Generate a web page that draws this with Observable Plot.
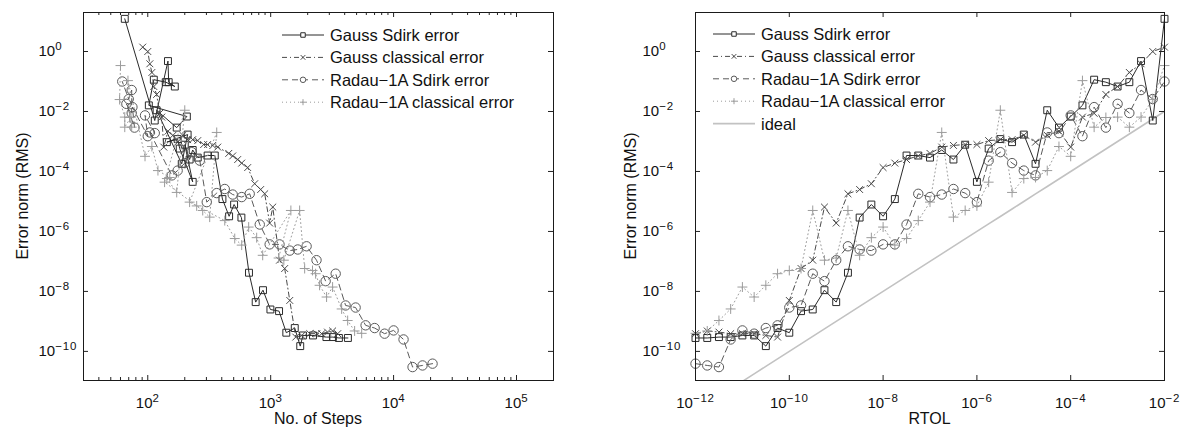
<!DOCTYPE html>
<html><head><meta charset="utf-8">
<script src="https://cdn.jsdelivr.net/npm/d3@7"></script>
<script src="https://cdn.jsdelivr.net/npm/@observablehq/plot@0.6"></script>
<style>
html,body{margin:0;padding:0;background:#fff;}
#wrap{position:relative;width:1183px;height:431px;overflow:hidden;}
#wrap > svg{position:absolute;top:0;}
</style></head><body><div id="wrap"></div>
<script>
// ---------- data ----------
const rtol = [1e-12,1.78e-12,3.16e-12,5.62e-12,1e-11,1.78e-11,3.16e-11,5.62e-11,1e-10,1.78e-10,3.16e-10,5.62e-10,
  1e-9,1.78e-9,3.16e-9,5.62e-9,1e-8,1.78e-8,3.16e-8,5.62e-8,1e-7,1.78e-7,3.16e-7,5.62e-7,1e-6,1.78e-6,3.16e-6,5.62e-6,
  1e-5,1.78e-5,3.16e-5,5.62e-5,1e-4,1.78e-4,3.16e-4,5.62e-4,1e-3,1.78e-3,3.16e-3,5.62e-3,1e-2];

const gaussSdirkErr = [2.8e-10,2.8e-10,3.0e-10,3.0e-10,3.4e-10,3.4e-10,1.5e-10,6.0e-10,4.2e-10,2.2e-9,2.5e-9,1.1e-8,4.4e-9,4.2e-8,
  2.9e-6,7.9e-6,3.2e-6,1.2e-5,3.4e-4,3.4e-4,2.9e-4,5.2e-4,2.5e-4,7.8e-4,4.5e-5,5.8e-4,1.2e-3,9.5e-4,1.7e-3,1.8e-4,
  1.1e-2,2.9e-3,6.8e-3,1.6e-2,0.115,0.095,0.068,0.095,0.48,5.0e-3,12.3];
const gaussClassicalErr = [3.9e-10,4.8e-10,4.4e-10,3.9e-10,3.9e-10,3.9e-10,3.4e-10,3.0e-10,5.0e-9,5.8e-8,1.1e-7,6.5e-6,1.9e-6,1.8e-5,
  2.5e-5,3.9e-5,1.35e-4,1.9e-4,2.5e-4,3.3e-4,4.0e-4,6.5e-4,7.4e-4,7.9e-4,7.9e-4,1.07e-3,1.15e-3,1.15e-3,1.6e-3,9.5e-4,
  1.6e-3,2.2e-3,6.5e-4,6.5e-3,8.7e-3,0.037,0.068,0.20,0.39,1.0,1.4];
const radauSdirkErr = [3.9e-11,3.4e-11,3.0e-11,2.5e-10,5.0e-10,3.9e-10,6.0e-10,7.4e-10,2.9e-9,3.4e-9,3.9e-8,2.2e-8,1.1e-7,3.2e-7,
  2.5e-7,2.3e-7,3.7e-7,3.7e-7,1.7e-6,1.8e-5,1.4e-5,1.7e-5,2.6e-5,1.9e-5,9.5e-6,2.3e-4,4.4e-4,1.9e-4,1.07e-4,7.4e-5,
  2.0e-3,1.9e-3,7.4e-3,1.5e-3,0.014,2.9e-3,0.018,8.9e-3,0.052,0.026,0.10];
const radauClassicalErr = [4.0e-10,4.8e-10,1.07e-9,2.6e-9,1.4e-8,6.5e-9,1.6e-8,3.9e-8,5.0e-8,5.8e-8,5.0e-6,1.1e-7,1.3e-7,5.0e-6,
  1.6e-7,6.2e-7,1.4e-6,3.5e-7,5.8e-7,2.3e-6,9.5e-6,2.0e-3,3.0e-6,5.0e-6,7.1e-6,4.4e-5,0.011,2.0e-5,5.8e-5,6.3e-5,
  1.07e-4,6.8e-4,3.2e-4,0.107,3.0e-3,6.3e-3,6.5e-3,3.0e-3,6.5e-3,0.025,0.34];

const gaussSdirkSteps = [4250,3590,3210,2840,2210,1830,1740,1570,1340,1170,995,866,755,666,578,504,459,405,351,307,
  255,232,219,200,232,182,175,143,211,189,118,172,208,102,112,140,166,148,146,114,65];
const gaussClassicalSteps = [3510,3190,2900,2600,2370,2080,1790,1600,1430,1300,1180,1040,981,894,829,741,650,581,539,491,
  456,371,338,307,285,255,232,211,193,175,160,146,135,130,125,118,112,108,104,100,91];
const radauSdirkSteps = [20750,17200,14270,12050,10000,8450,7010,5920,4910,4070,3380,2800,2360,1960,1660,1430,1180,981,815,675,
  581,491,423,364,302,265,228,200,175,157,104,114,95,100,75,78,67,74,74,70,62];
const radauClassicalSteps = [5500,4820,4230,3780,3190,2850,2500,2320,2190,1890,1720,1280,1160,1460,861,769,662,581,510,423,
  219,364,319,280,250,137,200,172,143,151,121,108,95,69,74,71,73,65,65,59,60];

const seriesNames = ["Gauss Sdirk error","Gauss classical error","Radau\u22121A Sdirk error","Radau\u22121A classical error"];
const idealName = "ideal";

const yTicks = [1,1e-2,1e-4,1e-6,1e-8,1e-10];
const stepsTicks = [1e2,1e3,1e4,1e5];
const rtolTicks = [1e-12,1e-10,1e-8,1e-6,1e-4,1e-2];

// ---------- styling ----------
const FONT = '"Liberation Sans", Arial, Helvetica, sans-serif';
const H = 431, MT = 12, MB = 51, IH = H - MT - MB;
const yDomain = [1.07e-11, 20];
const styles = [
  {stroke:"#2a2a2a", dash:null,      symbol:"square", r:3.9, lsym:d3.symbolSquare, lsize:20},
  {stroke:"#4a4a4a", dash:"5,3,1,3", symbol:"times",  r:3.2, lsym:d3.symbolTimes,  lsize:16},
  {stroke:"#5a5a5a", dash:"6,4",     symbol:"circle", r:4.7, lsym:d3.symbolCircle, lsize:24},
  {stroke:"#9c9c9c", dash:"1,3",     symbol:"plus",   r:3.3, lsym:d3.symbolPlus,   lsize:14}
];
const idealColor = "#c2c2c2";

function tbl(xs, ys){ return xs.map((x,i)=>({x, y: ys[i]})); }
const errs = [gaussSdirkErr, gaussClassicalErr, radauSdirkErr, radauClassicalErr];
const stepsAll = [gaussSdirkSteps, gaussClassicalSteps, radauSdirkSteps, radauClassicalSteps];

function fmt(d){ return "10^" + Math.round(Math.log10(d)); }

function panel(cfg){
  const iw = cfg.width - cfg.marginLeft - cfg.marginRight;
  const marks = [];
  if (cfg.ideal) marks.push(Plot.line(cfg.ideal, {x:"x", y:"y", stroke:idealColor, strokeWidth:1.6, clip:true}));
  cfg.series.forEach((data,k)=>{
    const s = styles[k];
    marks.push(Plot.line(data, {x:"x", y:"y", stroke:s.stroke, strokeWidth:1, strokeDasharray:s.dash}));
    marks.push(Plot.dot(data, {x:"x", y:"y", symbol:s.symbol, r:s.r, stroke:s.stroke, fill:"none", strokeWidth:1}));
  });
  const tc = "#222";
  marks.push(
    Plot.ruleX(cfg.xMajor, {x:d=>d, insetTop: IH-5, stroke:tc}),
    Plot.ruleX(cfg.xMajor, {x:d=>d, insetBottom: IH-5, stroke:tc}),
    Plot.ruleY(yTicks, {y:d=>d, insetRight: iw-5, stroke:tc}),
    Plot.ruleY(yTicks, {y:d=>d, insetLeft: iw-5, stroke:tc})
  );
  if (cfg.xMinor) marks.push(
    Plot.ruleX(cfg.xMinor, {x:d=>d, insetTop: IH-3, stroke:tc}),
    Plot.ruleX(cfg.xMinor, {x:d=>d, insetBottom: IH-3, stroke:tc})
  );
  marks.push(
    Plot.frame({stroke:"#1a1a1a", strokeWidth:1}),
    Plot.axisX(cfg.xMajor, {tickSize:0, tickPadding:17, tickFormat:fmt, label:null, fill:"#111"}),
    Plot.axisY(yTicks, {tickSize:0, tickPadding:cfg.yPad, textAnchor:"start", tickFormat:fmt, label:null, fill:"#111"})
  );
  const svg = Plot.plot({
    width: cfg.width, height: H,
    marginTop: MT, marginBottom: MB, marginLeft: cfg.marginLeft, marginRight: cfg.marginRight,
    x: {type:"log", domain: cfg.xDomain},
    y: {type:"log", domain: yDomain},
    style: {fontFamily: FONT, fontSize:"15px", background:"transparent", color:"#111", overflow:"visible"},
    marks
  });
  const S = d3.select(svg);
  S.selectAll("text").each(function(){
    const m = /^10\^(-?\d+)$/.exec(this.textContent);
    if (m){
      this.textContent = "10";
      d3.select(this).append("tspan").attr("dy","-0.52em").attr("font-size","11.5px")
        .attr("letter-spacing","0.8px").text(m[1].replace("-","\u2212"));
    }
  });
  S.append("text").attr("x", cfg.marginLeft + iw/2).attr("y", 424).attr("text-anchor","middle")
    .attr("font-size","16px").attr("fill","#111").text(cfg.xLabel);
  S.append("text").attr("transform", `translate(${cfg.yLabelX},${MT+IH/2}) rotate(-90)`)
    .attr("text-anchor","middle").attr("dy","0.35em").attr("font-size","16px").attr("fill","#111").text("Error norm (RMS)");
  const g = S.append("g").attr("text-anchor","start");
  cfg.legend.forEach((it,i)=>{
    const y = cfg.legY + i*22.4;
    g.append("line").attr("x1",cfg.legX).attr("x2",cfg.legX+42).attr("y1",y).attr("y2",y)
      .attr("stroke", it.stroke).attr("stroke-width", it.sw||1).attr("stroke-dasharray", it.dash||null);
    if (it.lsym) g.append("path").attr("d", d3.symbol(it.lsym, it.lsize)()).attr("transform",`translate(${cfg.legX+21},${y})`)
      .attr("fill","#fff").attr("stroke", it.stroke);
    g.append("text").attr("x", cfg.legX+48).attr("y", y).attr("dy","0.36em").attr("font-size","16.5px")
      .attr("text-anchor","start").attr("fill","#111").text(it.name);
  });
  return svg;
}

const leftMinor = d3.scaleLog().domain([30,2e5]).ticks().filter(t => Math.abs(Math.log10(t) - Math.round(Math.log10(t))) > 1e-6);

const legItems = seriesNames.map((n,k)=>({name:n, stroke:styles[k].stroke, dash:styles[k].dash, lsym:styles[k].lsym, lsize:styles[k].lsize}));

const left = panel({
  width:583, marginLeft:83, marginRight:30, xDomain:[30,2e5],
  xMajor: stepsTicks, xMinor: leftMinor, yPad:45,
  series: stepsAll.map((st,k)=>tbl(st, errs[k])),
  xLabel:"No. of Steps", yLabelX:22,
  legX:282, legY:35, legend: legItems
});
const right = panel({
  width:583, marginLeft:95, marginRight:19, xDomain:[1e-12,1e-2],
  xMajor: rtolTicks, xMinor: null, yPad:53,
  series: errs.map(e=>tbl(rtol, e)),
  ideal: tbl(rtol, rtol),
  xLabel:"RTOL", yLabelX:30,
  legX:113, legY:34, legend: legItems.concat([{name:idealName, stroke:idealColor, sw:1.6}])
});
left.style.left = "0px";
right.style.left = "600px";
document.getElementById("wrap").append(left, right);
</script>
</body></html>
